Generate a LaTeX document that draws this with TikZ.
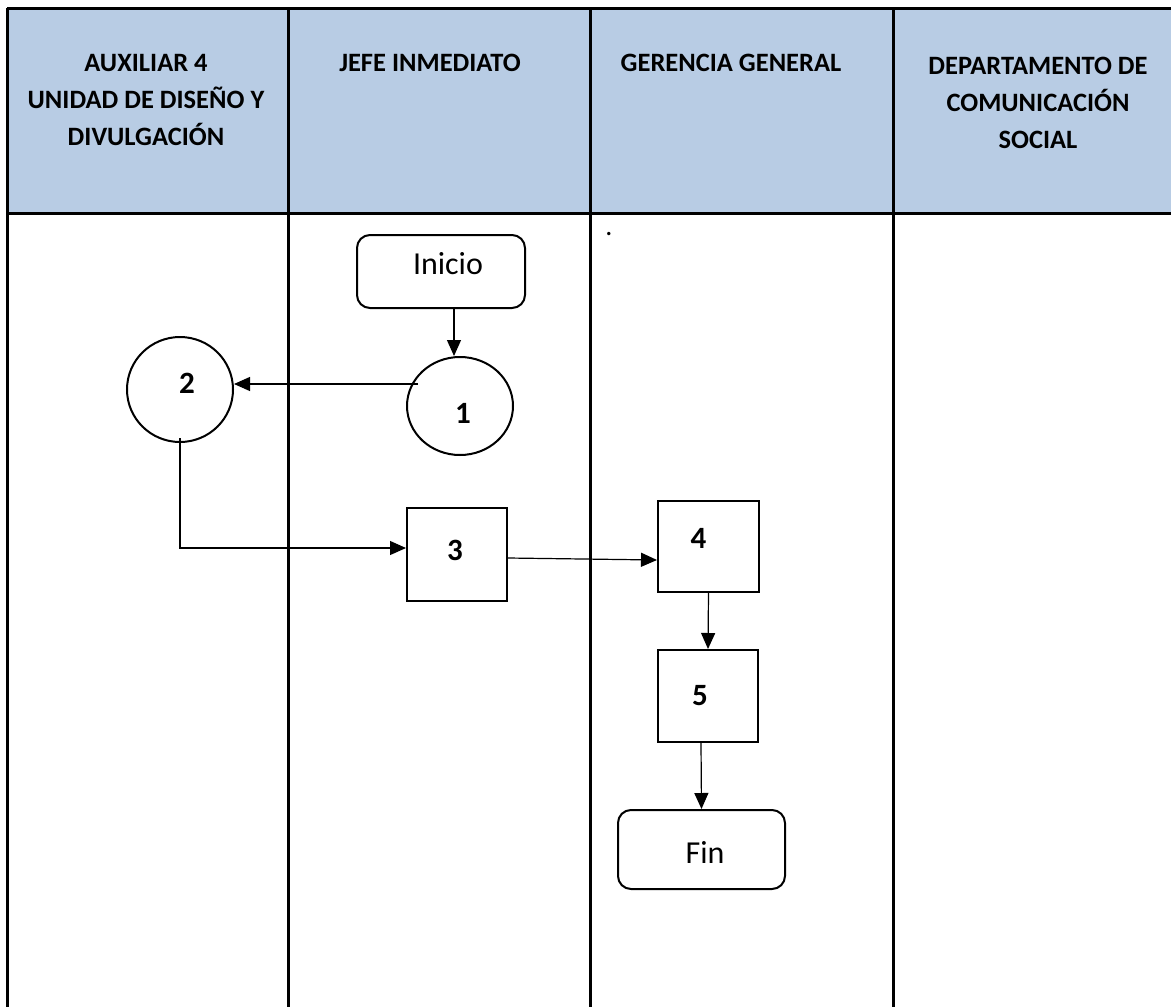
\documentclass[tikz,border=0pt]{standalone}
\usepackage{fontspec}
\setmainfont{Carlito}
\usetikzlibrary{arrows.meta,shapes.geometric,calc}
\definecolor{hdrblue}{HTML}{B8CCE4}
\tikzset{
  grid/.style={line width=3pt},
  hdr/.style={font=\fontsize{26.5}{37}\selectfont\bfseries, align=center},
  term/.style={draw, line width=2pt, rounded corners=13pt},
  proc/.style={draw, line width=2pt},
  circ/.style={draw, ellipse, line width=2pt, inner sep=0pt},
  numlbl/.style={text=black, font=\fontsize{31}{34}\selectfont\bfseries},
  wordlbl/.style={text=black, font=\fontsize{32}{36}\selectfont},
  arr/.style={line width=1.2pt, -{Triangle[length=16pt,width=14pt]}},
}
\begin{document}
\begin{tikzpicture}[x=1pt,y=-1pt]
\useasboundingbox (0,0) rectangle (1171,1007);
\clip (0,0) rectangle (1171,1007);
% header
\fill[hdrblue] (7,8) rectangle (1185,213);
\draw[grid] (7,8) -- (1185,8);
\draw[grid] (7,213) -- (1185,213);
\draw[grid] (7,8) -- (7,1015);
\draw[grid] (288,8) -- (288,1015);
\draw[grid] (590,8) -- (590,1015);
\draw[grid] (893,8) -- (893,1015);
\node[hdr] (h1) at (146,100) {AUXILIAR 4\\UNIDAD DE DISEÑO Y\\DIVULGACIÓN};
\node[hdr] (h2) at (430,63) {JEFE INMEDIATO};
\node[hdr] (h3) at (731,63) {GERENCIA GENERAL};
\node[hdr] (h4) at (1038,103) {DEPARTAMENTO DE\\COMUNICACIÓN\\SOCIAL};
% dot
\node[font=\fontsize{28}{30}\selectfont] (dot) at (609,234) {.};
% nodes
\node[term, minimum width=168pt, minimum height=73pt,
  label={[wordlbl,xshift=7pt,yshift=8pt]center:Inicio}] (inicio) at (441,271.5) {};
\node[circ, minimum width=106pt, minimum height=98pt,
  label={[numlbl,xshift=3pt,yshift=-7pt]center:1}] (c1) at (460,406) {};
\node[circ, minimum width=106pt, minimum height=105pt,
  label={[numlbl,xshift=7pt,yshift=6pt]center:2}] (c2) at (180,389.5) {};
\node[proc, minimum width=100pt, minimum height=93pt,
  label={[numlbl,xshift=-2pt,yshift=4pt]center:3}] (b3) at (457,554.5) {};
\node[proc, minimum width=101pt, minimum height=91pt,
  label={[numlbl,xshift=-10pt,yshift=8pt]center:4}] (b4) at (708.5,546.5) {};
\node[proc, minimum width=100pt, minimum height=92pt,
  label={[numlbl,xshift=-8pt,yshift=0pt]center:5}] (b5) at (708,696) {};
\node[term, minimum width=167pt, minimum height=79pt,
  label={[wordlbl,xshift=3.5pt,yshift=-2.5pt]center:Fin}] (fin) at (701.5,849.5) {};
% connectors
\draw[arr] ([xshift=13pt]inicio.south) -- ([xshift=13pt]inicio.south |- c1.north);
\coordinate (p1) at ([xshift=-42pt,yshift=22pt]c1.center);
\draw[arr] (p1) -- (p1 -| c2.east);
\draw[arr] ([yshift=5pt]c2.south) |- ([yshift=6.5pt]b3.west);
\draw[arr] ([yshift=-3.5pt]b3.east) -- ([yshift=-13.5pt]b4.west);
\draw[arr] (b4.south) -- (b5.north);
\draw[arr] ([xshift=-7pt]b5.south) -- (fin.north);
\end{tikzpicture}
\end{document}
